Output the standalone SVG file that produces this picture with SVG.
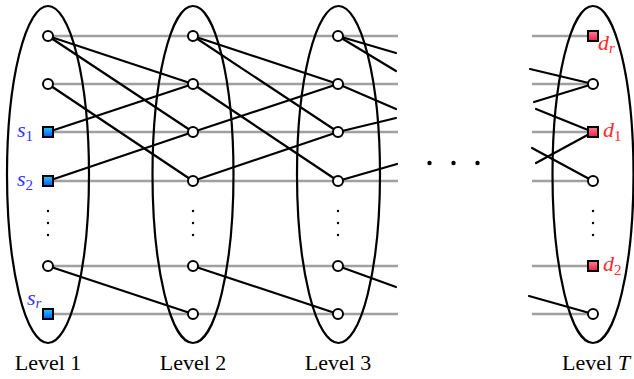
<svg xmlns="http://www.w3.org/2000/svg" width="634" height="379" viewBox="0 0 634 379">
<defs>
<linearGradient id="gb" x1="0" y1="0" x2="0" y2="1"><stop offset="0" stop-color="#22d0ff"/><stop offset="1" stop-color="#1050ff"/></linearGradient>
<linearGradient id="gr" x1="0" y1="0" x2="0" y2="1"><stop offset="0" stop-color="#ff8095"/><stop offset="1" stop-color="#e82048"/></linearGradient>
<style>
.g{stroke:#a0a0a0;stroke-width:2.4;fill:none}
.e{stroke:#000;stroke-width:2.2;fill:none;stroke-linecap:round}
.lv{stroke:#000;stroke-width:2.2;fill:none}
.c{fill:#fff;stroke:#000;stroke-width:2}
.sb{fill:url(#gb);stroke:#000;stroke-width:2}
.sr{fill:url(#gr);stroke:#000;stroke-width:2}
.t{font-family:'Liberation Serif' !important}
.bl{fill:#3333ff}
.rd{fill:#ff2a2a}
.dot{fill:#000}
</style>
</defs>
<g id="connectors">
<g class="g">
<line x1="48" y1="36" x2="398" y2="36"/>
<line x1="48" y1="84" x2="398" y2="84"/>
<line x1="48" y1="132" x2="398" y2="132"/>
<line x1="48" y1="181" x2="398" y2="181"/>
<line x1="48" y1="266" x2="398" y2="266"/>
<line x1="48" y1="314" x2="398" y2="314"/>
<line x1="532" y1="36" x2="593" y2="36"/>
<line x1="532" y1="84" x2="593" y2="84"/>
<line x1="532" y1="132" x2="593" y2="132"/>
<line x1="532" y1="181" x2="593" y2="181"/>
<line x1="532" y1="266" x2="593" y2="266"/>
<line x1="532" y1="314" x2="593" y2="314"/>
</g>
<g class="e">
<line x1="48" y1="36" x2="193" y2="84"/>
<line x1="48" y1="36" x2="193" y2="132"/>
<line x1="48" y1="84" x2="193" y2="181"/>
<line x1="48" y1="132" x2="193" y2="84"/>
<line x1="48" y1="181" x2="193" y2="132"/>
<line x1="48" y1="266" x2="193" y2="314"/>
<line x1="193" y1="36" x2="338" y2="84"/>
<line x1="193" y1="36" x2="338" y2="132"/>
<line x1="193" y1="84" x2="338" y2="181"/>
<line x1="193" y1="132" x2="338" y2="84"/>
<line x1="193" y1="181" x2="338" y2="132"/>
<line x1="193" y1="266" x2="338" y2="314"/>
<line x1="338" y1="36" x2="396" y2="53"/>
<line x1="338" y1="36" x2="396" y2="71"/>
<line x1="338" y1="84" x2="396" y2="109"/>
<line x1="338" y1="132" x2="396" y2="118"/>
<line x1="338" y1="181" x2="397" y2="164"/>
<line x1="338" y1="266" x2="396" y2="287"/>
<line x1="530" y1="69" x2="593" y2="84"/>
<line x1="534" y1="102" x2="593" y2="84"/>
<line x1="536" y1="109" x2="593" y2="132"/>
<line x1="536" y1="163" x2="593" y2="132"/>
<line x1="532" y1="148" x2="593" y2="181"/>
<line x1="529" y1="296" x2="593" y2="314"/>
</g>
</g>
<g id="level1">
<ellipse class="lv" cx="48" cy="174.5" rx="41" ry="168.5"/>
<circle class="c" cx="48" cy="36" r="5"/>
<circle class="c" cx="48" cy="84" r="5"/>
<rect class="sb" x="43" y="127" width="10" height="10"/>
<rect class="sb" x="43" y="176" width="10" height="10"/>
<circle class="dot" cx="48" cy="211" r="1.2"/><circle class="dot" cx="48" cy="223" r="1.2"/><circle class="dot" cx="48" cy="235" r="1.2"/>
<circle class="c" cx="48" cy="266" r="5"/>
<rect class="sb" x="43" y="309" width="10" height="10"/>
<text class="t bl" font-family="Liberation Serif" font-style="italic" font-size="22" style="font-family:'Liberation Serif'" x="17" y="137">s<tspan font-size="15" dy="4" font-style="normal">1</tspan></text>
<text class="t bl" font-family="Liberation Serif" font-style="italic" font-size="22" style="font-family:'Liberation Serif'" x="17" y="186">s<tspan font-size="15" dy="4" font-style="normal">2</tspan></text>
<text class="t bl" font-family="Liberation Serif" font-style="italic" font-size="22" style="font-family:'Liberation Serif'" x="27" y="305">s<tspan font-size="15" dy="3">r</tspan></text>
<text class="t" font-family="Liberation Serif" font-size="22" style="font-family:'Liberation Serif'" x="48" y="370" text-anchor="middle">Level 1</text>
</g>
<g id="level2">
<ellipse class="lv" cx="193" cy="174.5" rx="40.5" ry="168.5"/>
<circle class="c" cx="193" cy="36" r="5"/>
<circle class="c" cx="193" cy="84" r="5"/>
<circle class="c" cx="193" cy="132" r="5"/>
<circle class="c" cx="193" cy="181" r="5"/>
<circle class="dot" cx="193" cy="211" r="1.2"/><circle class="dot" cx="193" cy="223" r="1.2"/><circle class="dot" cx="193" cy="235" r="1.2"/>
<circle class="c" cx="193" cy="266" r="5"/>
<circle class="c" cx="193" cy="314" r="5"/>
<text class="t" font-family="Liberation Serif" font-size="22" style="font-family:'Liberation Serif'" x="193" y="370" text-anchor="middle">Level 2</text>
</g>
<g id="level3">
<ellipse class="lv" cx="338.5" cy="174.5" rx="41.5" ry="168.5"/>
<circle class="c" cx="338" cy="36" r="5"/>
<circle class="c" cx="338" cy="84" r="5"/>
<circle class="c" cx="338" cy="132" r="5"/>
<circle class="c" cx="338" cy="181" r="5"/>
<circle class="dot" cx="338" cy="211" r="1.2"/><circle class="dot" cx="338" cy="223" r="1.2"/><circle class="dot" cx="338" cy="235" r="1.2"/>
<circle class="c" cx="338" cy="266" r="5"/>
<circle class="c" cx="338" cy="314" r="5"/>
<text class="t" font-family="Liberation Serif" font-size="22" style="font-family:'Liberation Serif'" x="338" y="370" text-anchor="middle">Level 3</text>
</g>
<g id="ellipsis">
<circle class="dot" cx="429.5" cy="163" r="2.2"/>
<circle class="dot" cx="453.5" cy="163" r="2.2"/>
<circle class="dot" cx="477.5" cy="163" r="2.2"/>
</g>
<g id="levelT">
<ellipse class="lv" cx="593" cy="174.5" rx="40.5" ry="168.5"/>
<rect class="sr" x="588" y="31" width="10" height="10"/>
<circle class="c" cx="593" cy="84" r="5"/>
<rect class="sr" x="588" y="127" width="10" height="10"/>
<circle class="c" cx="593" cy="181" r="5"/>
<circle class="dot" cx="593" cy="211" r="1.2"/><circle class="dot" cx="593" cy="223" r="1.2"/><circle class="dot" cx="593" cy="235" r="1.2"/>
<rect class="sr" x="588" y="261" width="10" height="10"/>
<circle class="c" cx="593" cy="314" r="5"/>
<text class="t rd" font-family="Liberation Serif" font-style="italic" font-size="22" style="font-family:'Liberation Serif'" x="598" y="50">d<tspan font-size="15" dy="3">r</tspan></text>
<text class="t rd" font-family="Liberation Serif" font-style="italic" font-size="22" style="font-family:'Liberation Serif'" x="603" y="137">d<tspan font-size="15" dy="4" font-style="normal">1</tspan></text>
<text class="t rd" font-family="Liberation Serif" font-style="italic" font-size="22" style="font-family:'Liberation Serif'" x="603" y="271">d<tspan font-size="15" dy="4" font-style="normal">2</tspan></text>
<text class="t" font-family="Liberation Serif" font-size="22" style="font-family:'Liberation Serif'" x="596" y="370" text-anchor="middle">Level <tspan font-style="italic">T</tspan></text>
</g>
</svg>
